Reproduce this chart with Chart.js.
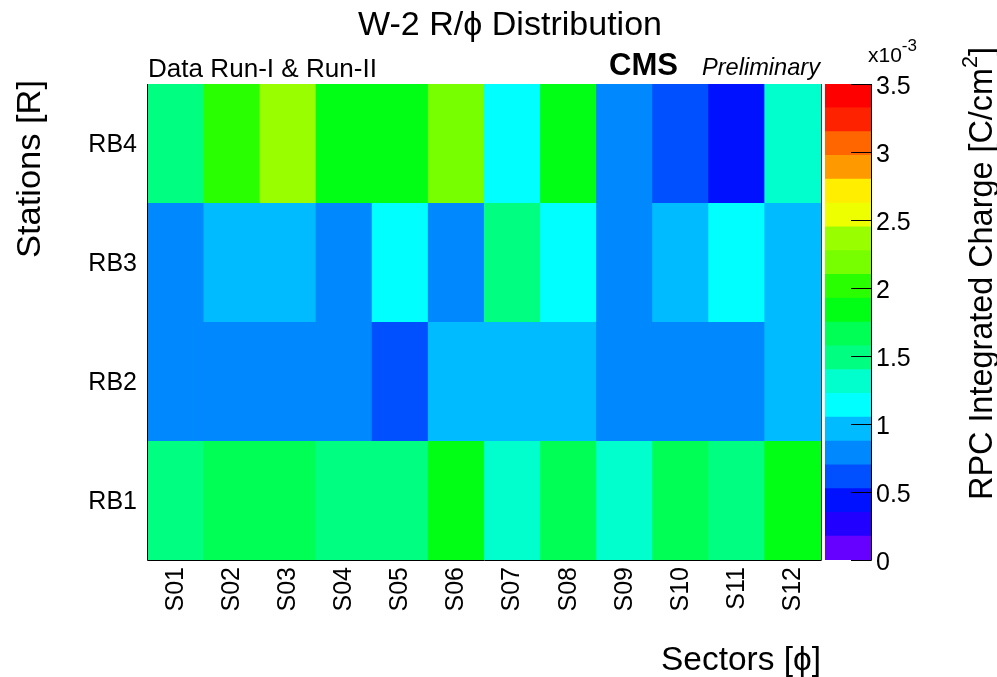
<!DOCTYPE html>
<html>
<head>
<meta charset="utf-8">
<title>W-2 R/phi Distribution</title>
<script src="https://cdn.jsdelivr.net/npm/chart.js@4.4.1/dist/chart.umd.min.js"></script>
<style>
  html, body { margin: 0; padding: 0; background: #fff; }
  #wrap { position: relative; width: 997px; height: 677px; }
  #wrap canvas { position: absolute; left: 0; top: 0; }
</style>
</head>
<body>
<div id="wrap">
  <canvas id="mapChart" width="997" height="677"></canvas>
  <canvas id="zChart" width="997" height="677"></canvas>
</div>
<script>
// --- data (integrated charge, units of 1e-3 C/cm2) ---
const sectors = ['S01', 'S02', 'S03', 'S04', 'S05', 'S06', 'S07', 'S08', 'S09', 'S10', 'S11', 'S12'];
const stations = ['RB1', 'RB2', 'RB3', 'RB4'];
const rb1 = [1.52, 1.66, 1.68, 1.49, 1.50, 1.86, 1.30, 1.70, 1.33, 1.69, 1.55, 1.88];
const rb2 = [0.80, 0.82, 0.81, 0.84, 0.62, 0.97, 0.96, 0.95, 0.83, 0.80, 0.82, 0.99];
const rb3 = [0.85, 1.00, 0.98, 0.86, 1.15, 0.84, 1.48, 1.17, 0.81, 0.99, 1.19, 0.96];
const rb4 = [1.50, 2.03, 2.38, 1.85, 1.87, 2.19, 1.14, 1.84, 0.79, 0.63, 0.45, 1.32];
const zTicks = [0, 0.5, 1, 1.5, 2, 2.5, 3, 3.5];
const zMax = 3.5;

// 20 contour colours, bottom to top
const zColors = ['#6600ff', '#2200ff', '#0011ff', '#0050ff', '#0088ff', '#00bbff', '#00ffff', '#00ffcc',
                 '#00ff80', '#00ff55', '#00ff14', '#2aff00', '#77ff00', '#99ff00', '#eeff00', '#ffee00',
                 '#ff9900', '#ff6600', '#ff2200', '#ff0000'];
const zStep = zMax / zColors.length;
const stationValues = [rb1, rb2, rb3, rb4];

const FONT = '"Liberation Sans", Arial, Helvetica, sans-serif';

function colorFor(v) {
    return zColors[Math.min(zColors.length - 1, Math.floor(v / zStep))];
}

function drawText(ctx, str, x, y, o) {
    ctx.save();
    ctx.font = o.font;
    ctx.fillStyle = '#000';
    ctx.textAlign = o.align || 'left';
    ctx.textBaseline = o.base || 'alphabetic';
    ctx.translate(x, y);
    if (o.rot) ctx.rotate(o.rot);
    if (o.width) {
        const w = ctx.measureText(str).width;
        ctx.scale(o.width / w, 1);
    }
    ctx.fillText(str, 0, 0);
    ctx.restore();
}

// text made of pieces (for superscripts), aligned left or right
function drawParts(ctx, parts, x, y, o) {
    ctx.save();
    ctx.fillStyle = '#000';
    ctx.textBaseline = o.base || 'alphabetic';
    ctx.textAlign = 'left';
    ctx.translate(x, y);
    if (o.rot) ctx.rotate(o.rot);
    let total = 0;
    parts.forEach(p => { ctx.font = p.font; p.w = ctx.measureText(p.t).width; total += p.w; });
    const k = o.width ? o.width / total : 1;
    ctx.scale(k, 1);
    let cx = o.align === 'right' ? -total : 0;
    parts.forEach(p => {
        ctx.font = p.font;
        ctx.fillText(p.t, cx, p.dy || 0);
        cx += p.w;
    });
    ctx.restore();
}

// 1. axis labels, titles, frame for the map
const mapDecor = {
    id: 'mapDecor',
    afterDraw(chart) {
        const ctx = chart.ctx;
        const a = chart.chartArea;
        const xs = chart.scales.x, ys = chart.scales.y;

        // frame
        ctx.save();
        ctx.strokeStyle = '#000';
        ctx.lineWidth = 1;
        ctx.beginPath();
        ctx.moveTo(a.left - 0.5, a.top);
        ctx.lineTo(a.left - 0.5, a.bottom + 0.5);
        ctx.lineTo(a.right + 0.5, a.bottom + 0.5);
        ctx.stroke();
        ctx.strokeStyle = '#444';
        ctx.beginPath();
        ctx.moveTo(a.right + 0.5, a.top);
        ctx.lineTo(a.right + 0.5, a.bottom + 0.5);
        ctx.stroke();
        ctx.restore();

        const lab = '25px ' + FONT;
        stations.forEach((s, k) => {
            drawText(ctx, s, a.left - 11, ys.getPixelForValue(k + 0.5) + 2, { font: lab, align: 'right', base: 'middle' });
        });
        sectors.forEach((s, i) => {
            drawText(ctx, s, xs.getPixelForValue(i), a.bottom + 7, { font: lab, align: 'right', base: 'middle', rot: -Math.PI / 2 });
        });

        drawText(ctx, 'W-2 R/\u03D5 Distribution', 510, 35, { font: '33px ' + FONT, align: 'center', width: 304 });
        drawText(ctx, 'Data Run-I & Run-II', 148, 77, { font: '26px ' + FONT, width: 229 });
        drawText(ctx, 'CMS', 609, 75, { font: 'bold 31px ' + FONT, width: 69 });
        drawText(ctx, 'Preliminary', 702, 75, { font: 'italic 24px ' + FONT, width: 118 });

        drawText(ctx, 'Stations [R]', 31, 80, { font: '34px ' + FONT, align: 'right', base: 'middle', rot: -Math.PI / 2, width: 178 });
        drawText(ctx, 'Sectors [\u03D5]', a.right, 670, { font: '34px ' + FONT, align: 'right', width: 160 });
    }
};

// 2. palette axis
const zDecor = {
    id: 'zDecor',
    afterDraw(chart) {
        const ctx = chart.ctx;
        const a = chart.chartArea;
        const ys = chart.scales.y;

        ctx.save();
        ctx.strokeStyle = '#000';
        ctx.lineWidth = 1;
        ctx.beginPath();
        ctx.moveTo(a.right + 0.5, a.top);
        ctx.lineTo(a.right + 0.5, a.bottom + 0.5);
        zTicks.forEach(t => {
            const y = Math.round(ys.getPixelForValue(t)) + 0.5;
            ctx.moveTo(a.right - 20, y);
            ctx.lineTo(a.right + 0.5, y);
        });
        ctx.stroke();
        ctx.restore();

        zTicks.forEach(t => {
            drawText(ctx, String(t), a.right + 5, ys.getPixelForValue(t) + 3, { font: '25px ' + FONT, base: 'middle' });
        });

        drawParts(ctx, [
            { t: 'x10', font: '21px ' + FONT },
            { t: '-3', font: '17px ' + FONT, dy: -11 }
        ], 868, 62, {});

        drawParts(ctx, [
            { t: 'RPC Integrated Charge [C/cm', font: '33px ' + FONT },
            { t: '2', font: '22px ' + FONT, dy: -12 },
            { t: ']', font: '33px ' + FONT }
        ], 983, 47, { rot: -Math.PI / 2, align: 'right', base: 'middle', width: 453 });
    }
};

new Chart(document.getElementById('mapChart'), {
    type: 'bar',
    data: {
        labels: sectors,
        datasets: stationValues.map((vals, k) => ({
            label: stations[k],
            data: vals.map(() => [k, k + 1]),
            backgroundColor: vals.map(colorFor),
            grouped: false,
            categoryPercentage: 1,
            barPercentage: 1.02,
            borderWidth: 0,
            borderSkipped: false
        }))
    },
    options: {
        responsive: false,
        animation: false,
        devicePixelRatio: 1,
        layout: { padding: { top: 84, right: 176, left: 0, bottom: 0 } },
        plugins: { legend: { display: false }, tooltip: { enabled: false } },
        scales: {
            x: {
                grid: { display: false }, border: { display: false }, ticks: { display: false },
                afterFit: s => { s.height = 117; }
            },
            y: {
                min: 0, max: 4,
                grid: { display: false }, border: { display: false }, ticks: { display: false },
                afterFit: s => { s.width = 148; }
            }
        }
    },
    plugins: [mapDecor]
});

new Chart(document.getElementById('zChart'), {
    type: 'bar',
    data: {
        labels: ['z'],
        datasets: zColors.map((c, i) => ({
            data: [[i * zStep, (i + 1) * zStep]],
            backgroundColor: c,
            grouped: false,
            categoryPercentage: 1,
            barPercentage: 1,
            borderWidth: 0
        }))
    },
    options: {
        responsive: false,
        animation: false,
        devicePixelRatio: 1,
        layout: { padding: { left: 825, right: 126, top: 84, bottom: 117 } },
        plugins: { legend: { display: false }, tooltip: { enabled: false } },
        scales: {
            x: { display: false },
            y: { display: false, min: 0, max: zMax }
        }
    },
    plugins: [zDecor]
});
</script>
</body>
</html>
